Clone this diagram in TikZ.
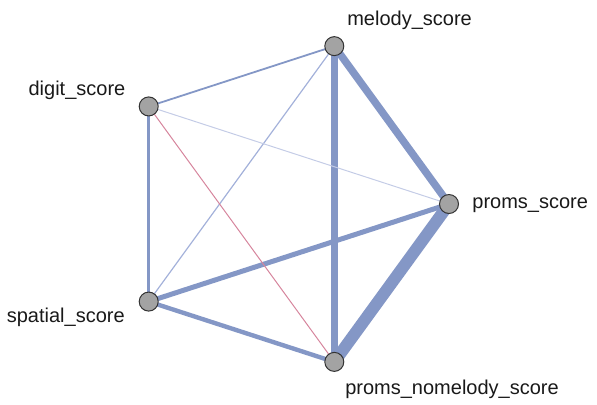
\documentclass[tikz,border=0pt]{standalone}
\usepackage{fontspec}
\setmainfont{Liberation Sans}
\usetikzlibrary{backgrounds}
\definecolor{edgeblue}{HTML}{8497C6}
\definecolor{edgelight}{HTML}{A3B1DA}
\definecolor{edgepale}{HTML}{C4CCE6}
\definecolor{edgepink}{HTML}{D6859D}
\definecolor{vertgray}{HTML}{A3A3A3}

\begin{document}
\begin{tikzpicture}[
    vert/.style={circle, draw=black!80, fill=vertgray, line width=0.5pt, minimum size=9.5pt, inner sep=0pt},
    lbl/.style={font=\fontsize{10}{12}\selectfont, text=black!90, inner sep=0pt},
  ]
  \useasboundingbox (-141.5pt,-100pt) rectangle (157pt,102pt);
  % five scores on a pentagon, radius 83pt
  \node[vert] (proms)    at (0:83pt)   {};
  \node[vert] (melody)   at (72:83pt)  {};
  \node[vert] (digit)    at (144:83pt) {};
  \node[vert] (spatial)  at (216:83pt) {};
  \node[vert] (nomelody) at (288:83pt) {};
  % labels
  \node[lbl, anchor=base west] (proms-lbl)    at ([shift={(11.5pt,-2pt)}]proms.center)    {proms\_score};
  \node[lbl, anchor=base west] (melody-lbl)   at ([shift={(6.3pt,10.5pt)}]melody.center)  {melody\_score};
  \node[lbl, anchor=base east] (digit-lbl)    at ([shift={(-11.5pt,5.3pt)}]digit.center)  {digit\_score};
  \node[lbl, anchor=base east] (spatial-lbl)  at ([shift={(-11.8pt,-10.7pt)}]spatial.center) {spatial\_score};
  \node[lbl, anchor=base west] (nomelody-lbl) at ([shift={(5.3pt,-16.5pt)}]nomelody.center) {proms\_nomelody\_score};
  % edges, width ~ strength
  \begin{scope}[on background layer]
    \draw[edgeblue, line width=6pt]    (proms.center) -- (nomelody.center);
    \draw[edgeblue, line width=3.75pt] (melody.center) -- (proms.center);
    \draw[edgeblue, line width=3.5pt]  (melody.center) -- (nomelody.center);
    \draw[edgeblue, line width=2.5pt]  (spatial.center) -- (proms.center);
    \draw[edgeblue, line width=2.2pt]  (spatial.center) -- (nomelody.center);
    \draw[edgeblue, line width=1.5pt]  (digit.center) -- (spatial.center);
    \draw[edgeblue, line width=0.9pt]  (digit.center) -- (melody.center);
    \draw[edgelight, line width=0.6pt] (melody.center) -- (spatial.center);
    \draw[edgepale, line width=0.5pt]  (digit.center) -- (proms.center);
    \draw[edgepink, line width=0.5pt]  (digit.center) -- (nomelody.center);
  \end{scope}
\end{tikzpicture}
\end{document}
